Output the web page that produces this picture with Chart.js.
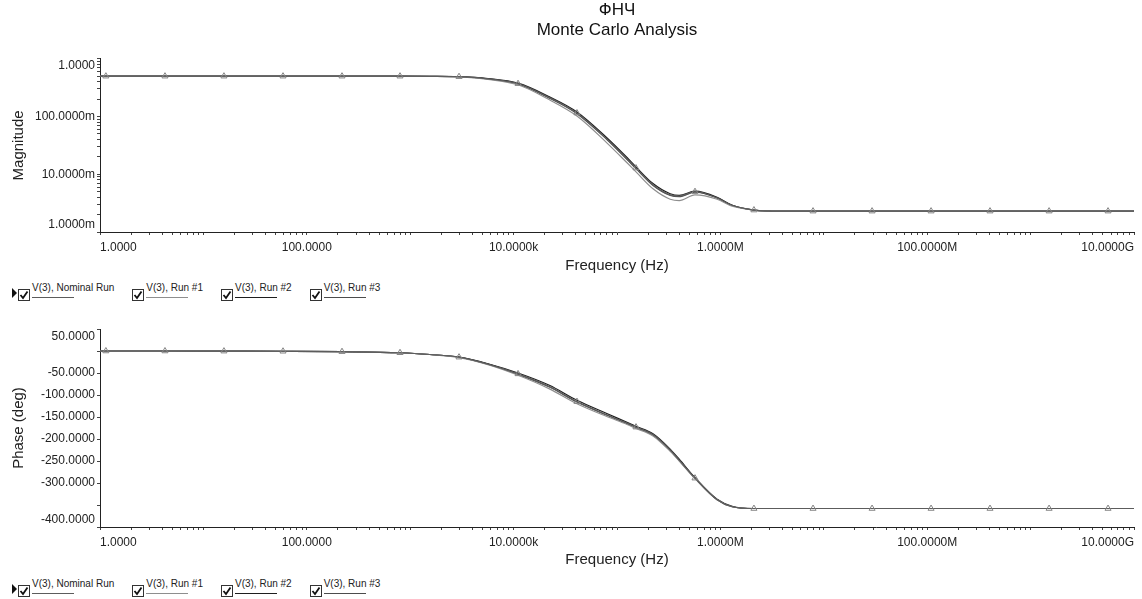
<!DOCTYPE html>
<html>
<head>
<meta charset="utf-8">
<title>ФНЧ — Monte Carlo Analysis</title>
<script src="https://cdn.jsdelivr.net/npm/chart.js@4.4.1/dist/chart.umd.min.js"></script>
<style>
  html, body { margin: 0; padding: 0; background: #fff; }
  #page { position: relative; width: 1142px; height: 599px; overflow: hidden;
          font-family: 'Liberation Sans', Arial, sans-serif; }
  canvas { position: absolute; left: 0; }
  #magChart   { top: 0; }
  #phaseChart { top: 300px; }

  .legend { position: absolute; left: 12px; display: flex; align-items: flex-start; }
  #magLegend   { top: 282px; }
  #phaseLegend { top: 578px; }
  .pointer { margin-top: 6px; width: 0; height: 0;
             border-left: 5px solid #111; border-top: 5px solid transparent; border-bottom: 5px solid transparent; }
  .item { display: flex; align-items: flex-start; margin-right: 17px; }
  .box { margin-top: 7px; margin-left: 1px; width: 10px; height: 10px; border: 1px solid #333; background: #fff; }
  .box svg { display: block; }
  .lbl { position: relative; margin-left: 2px; font-size: 10px; line-height: 12px; height: 17px; color: #222; white-space: nowrap; }
  .lbl i { position: absolute; left: 0; top: 15px; width: 42px; height: 1px; }
</style>
</head>
<body>
<div id="page">
  <canvas id="magChart" width="1142" height="280"></canvas>
  <div class="legend" id="magLegend"></div>
  <canvas id="phaseChart" width="1142" height="274"></canvas>
  <div class="legend" id="phaseLegend"></div>
</div>

<script>
// ─── Data ────────────────────────────────────────────────────────────────────

const FREQ = [1, 1.14, 4.25, 15.8, 58.9, 219, 797, 1550, 2966, 5650, 11040, 22200,
              41000, 79700, 125000, 152700, 223000, 327000, 400000, 568000, 930000, 1.3e6,
              2.11e6, 3.8e6, 7.87e6, 2.93e7, 1.09e8, 4.05e8, 1.51e9, 5.61e9, 1e10];

// nominal run carries the triangle markers
const MARKER_FREQ = [1.14, 4.25, 15.8, 58.9, 219, 797, 2966, 11040, 41000, 152700, 568000,
                     2.11e6, 7.87e6, 2.93e7, 1.09e8, 4.05e8, 1.51e9, 5.61e9];

const MAG_NOMINAL = [0.5, 0.5, 0.5, 0.5, 0.5, 0.5, 0.5, 0.498, 0.49, 0.45, 0.371, 0.212,
                     0.115, 0.041, 0.0185, 0.0128, 0.0066, 0.0044, 0.0042, 0.005, 0.0039, 0.0029,
                     0.0024, 0.0023, 0.0023, 0.0023, 0.0023, 0.0023, 0.0023, 0.0023, 0.0023];
const MAG_RUN1    = [0.5, 0.5, 0.5, 0.5, 0.5, 0.5, 0.5, 0.497, 0.485, 0.44, 0.355, 0.195,
                     0.102, 0.035, 0.0158, 0.011, 0.0056, 0.0037, 0.0035, 0.0044, 0.0037, 0.0028,
                     0.0024, 0.0023, 0.0023, 0.0023, 0.0023, 0.0023, 0.0023, 0.0023, 0.0023];
const MAG_RUN2    = [0.5, 0.5, 0.5, 0.5, 0.5, 0.5, 0.5, 0.499, 0.492, 0.455, 0.378, 0.22,
                     0.12, 0.043, 0.0195, 0.0134, 0.0069, 0.0046, 0.0043, 0.0051, 0.004, 0.0029,
                     0.0024, 0.0023, 0.0023, 0.0023, 0.0023, 0.0023, 0.0023, 0.0023, 0.0023];
const MAG_RUN3    = [0.5, 0.5, 0.5, 0.5, 0.5, 0.5, 0.5, 0.498, 0.489, 0.448, 0.368, 0.208,
                     0.112, 0.04, 0.018, 0.0125, 0.0064, 0.0043, 0.0041, 0.0049, 0.0039, 0.0029,
                     0.0024, 0.0023, 0.0023, 0.0023, 0.0023, 0.0023, 0.0023, 0.0023, 0.0023];

const PHASE_NOMINAL = [0, 0, 0, -0.3, -0.6, -1.5, -4, -8, -14, -30, -52, -81,
                       -115, -145, -164, -173, -190, -225, -248, -289, -338, -354,
                       -358, -358, -358, -358, -358, -358, -358, -358, -358];
const PHASE_RUN1    = [0, 0, 0, -0.3, -0.6, -1.5, -4, -8, -15, -31, -55, -86,
                       -120, -149, -167, -176, -193, -228, -250, -290, -338, -354,
                       -358, -358, -358, -358, -358, -358, -358, -358, -358];
const PHASE_RUN2    = [0, 0, 0, -0.3, -0.6, -1.5, -4, -8, -14, -29, -50, -78,
                       -112, -142, -162, -171, -188, -223, -246, -288, -337, -353,
                       -358, -358, -358, -358, -358, -358, -358, -358, -358];
const PHASE_RUN3    = [0, 0, 0, -0.3, -0.6, -1.5, -4, -8, -14, -30, -53, -82,
                       -116, -146, -165, -174, -191, -226, -249, -289, -338, -354,
                       -358, -358, -358, -358, -358, -358, -358, -358, -358];

const SERIES_NAMES = ['V(3), Nominal Run', 'V(3), Run #1', 'V(3), Run #2', 'V(3), Run #3'];

// labelled ticks
const FREQ_LABELS  = [1, 100, 1e4, 1e6, 1e8, 1e10];
const MAG_LABELS   = [1e-3, 1e-2, 1e-1, 1];
const PHASE_LABELS = [50, -50, -100, -150, -200, -250, -300, -400];

// ─── Styling ─────────────────────────────────────────────────────────────────

const LINE_COLORS  = ['#5c5c5c', '#8e8e8e', '#1e1e1e', '#4c4c4c'];
const AXIS_COLOR   = '#222';
const MARKER_COLOR = '#858585';

Chart.defaults.font.family = "'Liberation Sans', Arial, sans-serif";
Chart.defaults.color = '#222';

// ─── Helpers ─────────────────────────────────────────────────────────────────

// 1,2,...,9 x 10^d for each decade, closed by the last power of ten
function logTicks(fromExp, toExp) {
  const out = [];
  for (let d = fromExp; d < toExp; d++) {
    for (let k = 1; k <= 9; k++) out.push(k * Math.pow(10, d));
  }
  out.push(Math.pow(10, toExp));
  return out;
}

const near = (a, b) => Math.abs(a - b) <= Math.abs(b) * 1e-9;

// engineering format as Multisim prints it: 10.0000k, 100.0000m ...
function eng(v) {
  const units = [[1e9, 'G'], [1e6, 'M'], [1e3, 'k'], [1, ''], [1e-3, 'm']];
  for (const [m, p] of units) {
    if (Math.abs(v) >= m * 0.9999) return (v / m).toFixed(4) + p;
  }
  return (v / 1e-3).toFixed(4) + 'm';
}

// the outermost y labels sit inside the axis, not centred on the tick
function edgeLabel(text, value, min, max) {
  if (value === max) return ['', text];
  if (value === min) return [text, ''];
  return text;
}

function makeDatasets(series) {
  return series.map((vals, i) => ({
    label: SERIES_NAMES[i],
    data: FREQ.map((f, j) => ({ x: f, y: vals[j] })),
    borderColor: LINE_COLORS[i],
    borderWidth: 1.2,
    cubicInterpolationMode: 'monotone',
    pointStyle: 'triangle',
    pointRadius: ctx => (i === 0 && MARKER_FREQ.includes(FREQ[ctx.dataIndex])) ? 3.5 : 0,
    pointBorderColor: MARKER_COLOR,
    pointBackgroundColor: 'rgba(255,255,255,0)',
    pointBorderWidth: 1,
  }));
}

function freqAxis(axisHeight) {
  return {
    type: 'logarithmic',
    min: 1,
    max: 1e10,
    afterBuildTicks: s => { s.ticks = logTicks(0, 10).map(v => ({ value: v })); },
    afterFit: s => { s.height = axisHeight; s.paddingLeft = 0; s.paddingRight = 0; },
    grid: { drawOnChartArea: false, tickLength: 3, tickColor: '#444' },
    border: { color: AXIS_COLOR, width: 1 },
    ticks: {
      autoSkip: false, maxRotation: 0, minRotation: 0, align: 'inner', padding: 5,
      font: { size: 12 },
      callback: v => FREQ_LABELS.some(l => near(v, l)) ? eng(v) : '',
    },
    title: { display: true, text: 'Frequency (Hz)', font: { size: 15 }, padding: { top: 0, bottom: 5 } },
  };
}

function valueAxisBase(titleText) {
  return {
    afterFit: s => { s.width = 100; s.paddingTop = 0; s.paddingBottom = 0; },
    grid: { drawOnChartArea: false, tickLength: 3, tickColor: '#444' },
    border: { color: AXIS_COLOR, width: 1 },
    title: { display: true, text: titleText, font: { size: 15 }, padding: { top: 10, bottom: 0 } },
  };
}

function baseOptions(padTop, title) {
  return {
    responsive: false,
    maintainAspectRatio: false,
    animation: false,
    layout: { padding: { left: 0, right: 8, top: padTop, bottom: 0 } },
    plugins: {
      legend: { display: false },
      tooltip: { enabled: false },
      title: title,
    },
  };
}

function buildLegend(id) {
  const el = document.getElementById(id);
  let html = '<span class="pointer"></span>';
  SERIES_NAMES.forEach((name, i) => {
    html += '<span class="item"><span class="box"><svg width="10" height="10">' +
            '<polyline points="1.5,5 4,8 8.5,1.5" fill="none" stroke="#111" stroke-width="1.8"/></svg></span>' +
            '<span class="lbl">' + name + '<i style="background:' + LINE_COLORS[i] + '"></i></span></span>';
  });
  el.innerHTML = html;
}

// ─── Magnitude chart ─────────────────────────────────────────────────────────

const magOpts = baseOptions(0, {
  display: true,
  fullSize: false,
  text: ['ФНЧ', 'Monte Carlo Analysis'],
  color: '#111',
  font: { size: 17, weight: 'normal' },
  padding: { top: 0, bottom: 18 },
});
magOpts.scales = {
  x: freqAxis(48),
  y: Object.assign(valueAxisBase('Magnitude'), {
    type: 'logarithmic',
    min: 1e-3,
    max: 1,
    afterBuildTicks: s => { s.ticks = logTicks(-3, 0).map(v => ({ value: v })); },
    ticks: {
      autoSkip: false, padding: 2, font: { size: 12 },
      callback: v => MAG_LABELS.some(l => near(v, l))
        ? edgeLabel(eng(v), near(v, 1) ? 1 : near(v, 1e-3) ? 1e-3 : v, 1e-3, 1) : '',
    },
  }),
};

new Chart(document.getElementById('magChart'), {
  type: 'line',
  data: { datasets: makeDatasets([MAG_NOMINAL, MAG_RUN1, MAG_RUN2, MAG_RUN3]) },
  options: magOpts,
});

// ─── Phase chart ─────────────────────────────────────────────────────────────

const phaseOpts = baseOptions(29, { display: false });
phaseOpts.scales = {
  x: freqAxis(47),
  y: Object.assign(valueAxisBase('Phase (deg)'), {
    type: 'linear',
    min: -400,
    max: 50,
    ticks: {
      stepSize: 50, autoSkip: false, padding: 2, font: { size: 12 },
      callback: v => PHASE_LABELS.includes(v) ? edgeLabel(v.toFixed(4), v, -400, 50) : '',
    },
  }),
};

new Chart(document.getElementById('phaseChart'), {
  type: 'line',
  data: { datasets: makeDatasets([PHASE_NOMINAL, PHASE_RUN1, PHASE_RUN2, PHASE_RUN3]) },
  options: phaseOpts,
});

buildLegend('magLegend');
buildLegend('phaseLegend');
</script>
</body>
</html>
